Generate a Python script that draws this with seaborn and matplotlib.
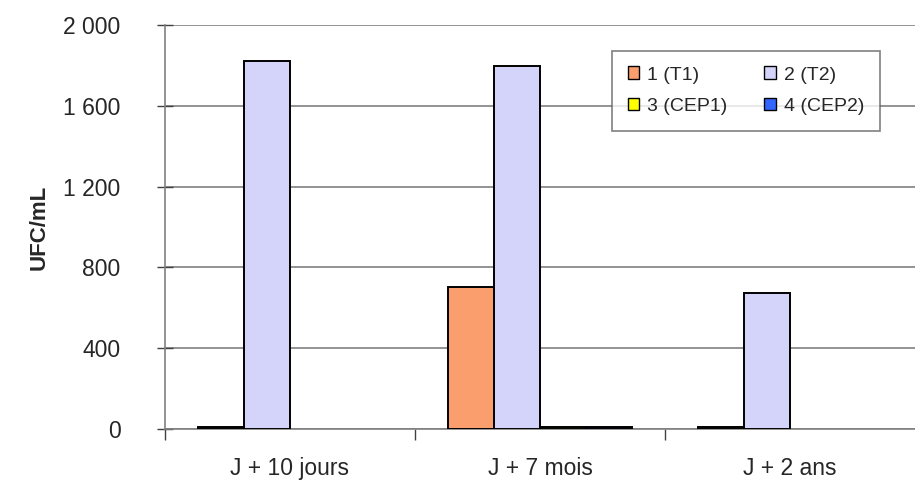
import pandas as pd
import matplotlib
matplotlib.use("Agg")
import matplotlib.pyplot as plt
import matplotlib.ticker as mticker
import seaborn as sns

# values
periods = ["J + 10 jours", "J + 7 mois", "J + 2 ans"]
series = ["1 (T1)", "2 (T2)", "3 (CEP1)", "4 (CEP2)"]
t1 = [10, 705, 10]
t2 = [1820, 1795, 675]
cep1 = [0, 10, 0]
cep2 = [0, 10, 0]
colors = ["#FA9E6E", "#D4D4FA", "#FFFF00", "#3366FF"]

rows = []
for name, vals in zip(series, [t1, t2, cep1, cep2]):
    for p, v in zip(periods, vals):
        rows.append({"Periode": p, "Serie": name, "UFC": v})
df = pd.DataFrame(rows)

sns.set_style("white")
plt.rcParams['font.family'] = ['Liberation Sans', 'DejaVu Sans']

fig = plt.figure(figsize=(9.15, 4.82), dpi=100)
ax = fig.add_axes([0.1803, 0.11, 0.8197, 0.838])

sns.barplot(data=df, x="Periode", y="UFC", hue="Serie", palette=colors, saturation=1,
            width=0.736, edgecolor="black", linewidth=1.4, ax=ax, zorder=3)

# hide the outline of empty bars
for bar in ax.patches:
    if bar.get_height() == 0:
        bar.set_linewidth(0)

# grid + axes
ax.set_ylim(0, 2000)
ax.set_xlim(-0.5, 2.5)
ax.set_yticks([0, 400, 800, 1200, 1600, 2000])
ax.yaxis.set_major_formatter(mticker.FuncFormatter(lambda v, p: f"{int(v):,}".replace(",", " ")))
ax.yaxis.grid(True, color="#808080", linewidth=1.2, zorder=0)
ax.set_axisbelow(True)
for s in ["top", "right"]:
    ax.spines[s].set_visible(False)
for s in ["left", "bottom"]:
    ax.spines[s].set_color("#808080")
    ax.spines[s].set_linewidth(1.2)

ax.tick_params(axis="y", direction="inout", length=12, width=1, color="#404040",
               labelsize=16.5, pad=26, left=True)
ax.tick_params(axis="x", which="major", length=0, labelsize=16.5, pad=20)
ax.set_xticks([-0.5, 0.5, 1.5], minor=True)
ax.tick_params(axis="x", which="minor", direction="out", length=8, width=1, color="#404040", bottom=True)

ax.set_xlabel("")
ax.set_ylabel("UFC/mL", fontsize=16, fontweight="bold", labelpad=10)

# row-wise legend order: 1 2 / 3 4
handles, labels = ax.get_legend_handles_labels()
order = [0, 2, 1, 3]
handles = [handles[i] for i in order]
labels = [labels[i] for i in order]
leg = ax.legend(handles, labels,
                loc="upper left", bbox_to_anchor=(0.583, 0.96), ncol=2, fontsize=14,
                frameon=True, fancybox=False, edgecolor="#606060",
                handlelength=0.6, handleheight=0.6, handletextpad=0.4,
                columnspacing=1.9, borderpad=0.8, labelspacing=0.75)
leg.get_frame().set_linewidth(1.2)
for h in leg.legend_handles:
    h.set_edgecolor("black")
    h.set_linewidth(1)
leg.set_zorder(5)

fig.savefig("out.png", dpi=100)
